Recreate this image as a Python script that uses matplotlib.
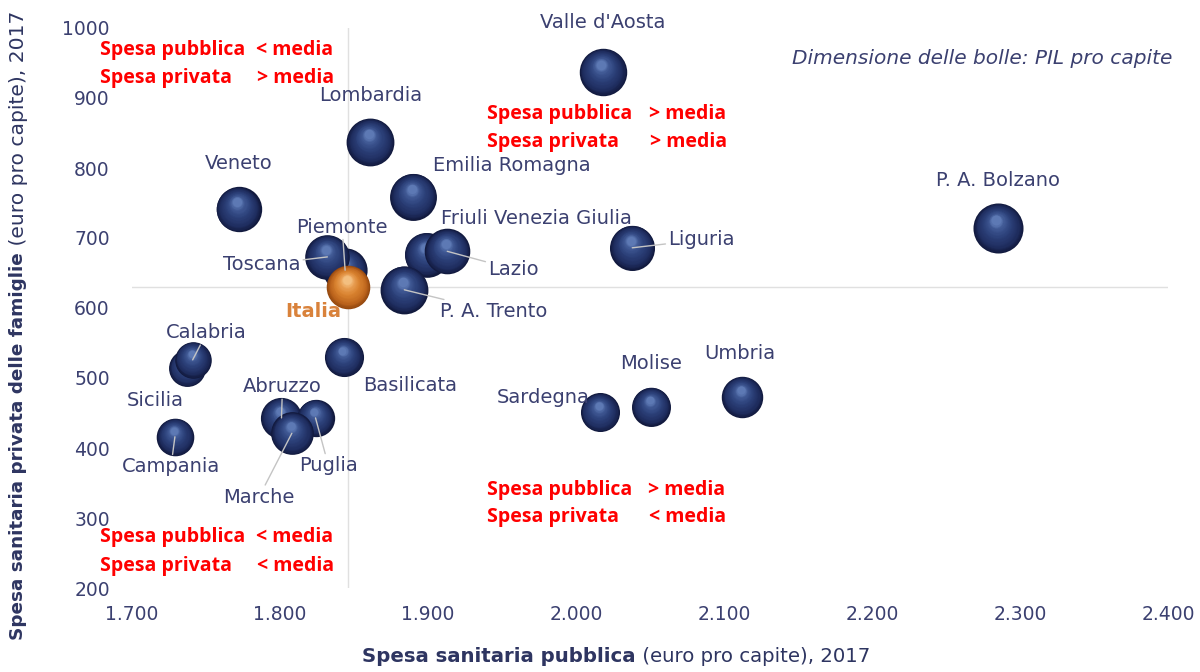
import numpy as np
import matplotlib
matplotlib.use("Agg")
import matplotlib.pyplot as plt
from matplotlib import transforms
from matplotlib.colors import LinearSegmentedColormap
from matplotlib.ticker import FuncFormatter

# Dati (euro pro capite, 2017) - ordine = ordine di disegno
regioni = ["Valle d'Aosta", "Lombardia", "Veneto", "Emilia Romagna",
           "Friuli Venezia Giulia", "Lazio", "Liguria", "P. A. Bolzano",
           "P. A. Trento", "Piemonte", "Toscana", "Italia", "Sicilia",
           "Calabria", "Campania", "Basilicata", "Abruzzo", "Puglia",
           "Marche", "Sardegna", "Molise", "Umbria"]
spesa_pubblica = [2018, 1861, 1772, 1890, 1899, 1913, 2038, 2285, 1884, 1844,
                  1832, 1846, 1737, 1741, 1729, 1843, 1801, 1824, 1808, 2016,
                  2051, 2112]
spesa_privata = [937, 837, 741, 759, 676, 681, 686, 714, 626, 654, 673, 630,
                 514, 526, 416, 530, 443, 443, 421, 451, 459, 473]
# PIL pro capite (migliaia di euro) -> dimensione delle bolle
pil_pro_capite = [36.5, 37.3, 32.1, 35.3, 30.6, 32.6, 31.4, 42.3, 37.3, 29.8,
                  30.6, 28.5, 17.1, 16.6, 18.2, 20.6, 24.1, 17.8, 26.9, 20.5,
                  20.4, 24.6]

x_ticks = [1700, 1800, 1900, 2000, 2100, 2200, 2300, 2400]
y_ticks = [200, 300, 400, 500, 600, 700, 800, 900, 1000]

# posizione etichette: offset in pixel (dx, dy), allineamento, linea guida
etichette = {
    "Valle d'Aosta": (0, 50, "center", False),
    "Lombardia": (0, 47, "center", False),
    "Veneto": (0, 46, "center", False),
    "Emilia Romagna": (20, 31, "left", False),
    "Friuli Venezia Giulia": (14, 36, "left", False),
    "Lazio": (41, -18, "left", True),
    "Liguria": (36, 8, "left", True),
    "P. A. Bolzano": (0, 48, "center", False),
    "P. A. Trento": (36, -22, "left", True),
    "Piemonte": (-3, 43, "center", True),
    "Toscana": (-27, -8, "right", True),
    "Italia": (-7, -25, "right", False),
    "Sicilia": (-32, -32, "center", False),
    "Calabria": (14, 27, "center", True),
    "Campania": (-4, -30, "center", True),
    "Basilicata": (19, -29, "left", False),
    "Abruzzo": (1, 31, "center", True),
    "Puglia": (13, -48, "center", True),
    "Marche": (-33, -64, "center", True),
    "Sardegna": (-56, 15, "center", False),
    "Molise": (0, 43, "center", False),
    "Umbria": (-2, 43, "center", False),
}

TESTO = "#3b4070"
W, H = 1200, 672


def fx(px):
    return px / W


def fy(py):
    return 1 - py / H


fig = plt.figure(figsize=(12, 6.72), dpi=100)
ax = fig.add_axes([fx(132), fy(588), (1168 - 132) / W, (588 - 28) / H])
ax.set_xlim(1700, 2400)
ax.set_ylim(200, 1000)
for s in ax.spines.values():
    s.set_visible(False)
ax.set_xticks(x_ticks)
ax.set_yticks(y_ticks)
ax.xaxis.set_major_formatter(FuncFormatter(lambda v, p: f"{v:,.0f}".replace(",", ".")))
ax.tick_params(length=0, labelsize=13.5, labelcolor=TESTO)
ax.tick_params(axis="x", pad=12)
ax.tick_params(axis="y", pad=16)

# linee della media nazionale
i_ita = regioni.index("Italia")
ax.axvline(spesa_pubblica[i_ita], color="#e0e0e0", lw=1, zorder=1)
ax.axhline(spesa_privata[i_ita], color="#e0e0e0", lw=1, zorder=1)

# bolle "sferiche": cerchi sovrapposti sempre piu' chiari
blu = LinearSegmentedColormap.from_list(
    "blu", [(0, "#121a3e"), (0.2, "#1f2d5f"), (0.55, "#2c4079"),
            (0.85, "#3f5893"), (1, "#5d79b4")])
arancio = LinearSegmentedColormap.from_list(
    "arancio", [(0, "#94480f"), (0.2, "#bd651d"), (0.55, "#d9822f"),
                (0.85, "#e9a055"), (1, "#f3bf80")])

n_strati = 22
for i, nome in enumerate(regioni):
    cmap = arancio if nome == "Italia" else blu
    d_pt = 10 + 4.0 * np.sqrt(pil_pro_capite[i])
    x, y = spesa_pubblica[i], spesa_privata[i]
    for k in range(n_strati):
        t = k / (n_strati - 1)
        f = 1 - 0.8 * t
        off = transforms.offset_copy(ax.transData, fig=fig,
                                     x=-0.06 * t * d_pt / 2,
                                     y=0.32 * t * d_pt / 2,
                                     units="points")
        ax.scatter([x], [y], s=(d_pt * f) ** 2, color=cmap(t),
                   linewidths=0, transform=off, zorder=3)

# etichette regioni
for i, nome in enumerate(regioni):
    dx, dy, ha, linea = etichette[nome]
    props = dict(arrowstyle="-", color="#c4c4c4", lw=1, shrinkA=0, shrinkB=0) if linea else None
    if nome == "Italia":
        ax.annotate(nome, xy=(spesa_pubblica[i], spesa_privata[i]), xytext=(dx, dy),
                    textcoords="offset pixels", ha=ha, va="center", fontsize=14,
                    fontweight="bold", color="#d9823b", zorder=6)
    else:
        ax.annotate(nome, xy=(spesa_pubblica[i], spesa_privata[i]), xytext=(dx, dy),
                    textcoords="offset pixels", ha=ha, va="center", fontsize=14,
                    color=TESTO, zorder=6, arrowprops=props)

# testi dei quadranti
rosso = dict(color="#ff0000", fontsize=14, fontweight="bold",
             family="Open Sans", va="center")
quadranti = [
    (100, 256, 50, "Spesa pubblica", "< media"),
    (100, 257, 78, "Spesa privata", "> media"),
    (487, 649, 114, "Spesa pubblica", "> media"),
    (487, 650, 142, "Spesa privata", "> media"),
    (487, 648, 490, "Spesa pubblica", "> media"),
    (487, 649, 517, "Spesa privata", "< media"),
    (100, 256, 537, "Spesa pubblica", "< media"),
    (100, 257, 566, "Spesa privata", "< media"),
]
for x1, x2, y, a, b in quadranti:
    fig.text(fx(x1), fy(y), a, **rosso)
    fig.text(fx(x2), fy(y), b, **rosso)

fig.text(fx(1172), fy(58), "Dimensione delle bolle: PIL pro capite",
         ha="right", va="center", fontsize=14.5, style="italic", color=TESTO)

# titoli degli assi (parte in grassetto + parte normale)
TITOLO = "#2e3561"
t1 = fig.text(fx(362), fy(662), "Spesa sanitaria pubblica", ha="left",
              va="baseline", fontsize=14.2, fontweight="bold", color=TITOLO)
ax.annotate(" (euro pro capite), 2017", xy=(1, 0), xycoords=t1, ha="left",
            va="bottom", fontsize=14.2, color=TITOLO, annotation_clip=False)

t2 = fig.text(fx(18), fy(640), "Spesa sanitaria privata delle famiglie",
              rotation=90, ha="center", va="bottom", fontsize=13.2,
              fontweight="bold", color=TITOLO)
ax.annotate(" (euro pro capite), 2017", xy=(0, 1), xycoords=t2, rotation=90,
            ha="left", va="bottom", fontsize=14.6, color=TITOLO,
            annotation_clip=False)

fig.savefig("out.png", dpi=100)
